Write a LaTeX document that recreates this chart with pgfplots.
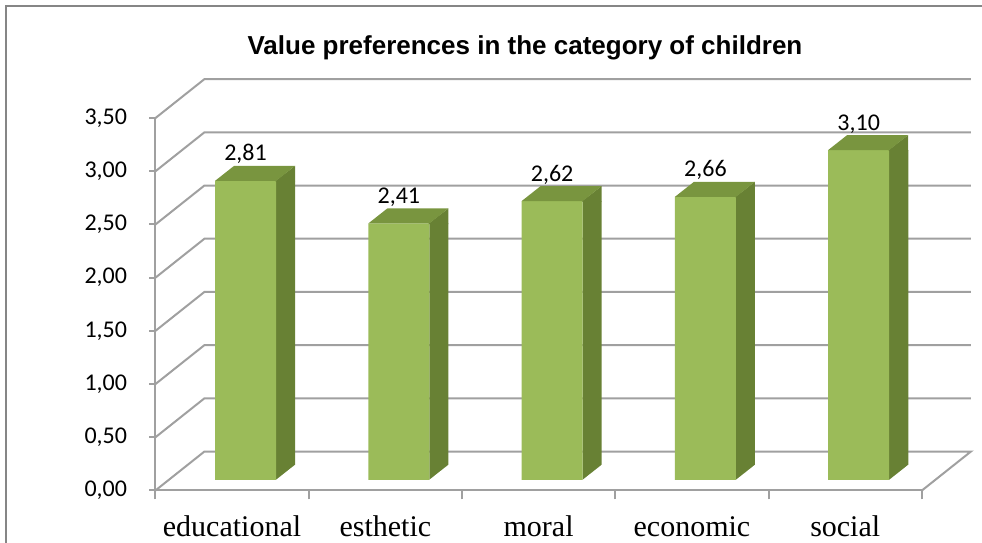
\documentclass[border=0pt]{standalone}
\usepackage{fontspec}
\setmainfont{Carlito}
\newfontfamily\timesfont{Liberation Serif}
\newfontfamily\titlefont{Liberation Sans}
\usepackage{pgfplots}
\pgfplotsset{compat=1.18}
\usepackage{pgfplotstable}
\definecolor{frontcol}{RGB}{155,187,89}
\definecolor{sidecol}{RGB}{104,129,52}
\definecolor{topcol}{RGB}{121,149,63}
\definecolor{gridcol}{RGB}{160,160,160}
\definecolor{framecol}{RGB}{134,134,134}
\pgfdeclareplotmark{barcap}{%
  \pgfsetfillcolor{sidecol}%
  \pgfpathmoveto{\pgfpoint{-0.3pt}{0pt}}%
  \pgfpathlineto{\pgfpoint{9.5pt}{7.5pt}}%
  \pgfpathlineto{\pgfpoint{9.5pt}{-0.3pt}}%
  \pgfpathlineto{\pgfpoint{-0.3pt}{-0.3pt}}%
  \pgfpathclose\pgfusepath{fill}%
  \pgfsetfillcolor{topcol}%
  \pgfpathmoveto{\pgfpoint{0pt}{0pt}}%
  \pgfpathlineto{\pgfpoint{-30.5pt}{0pt}}%
  \pgfpathlineto{\pgfpoint{-21pt}{7.5pt}}%
  \pgfpathlineto{\pgfpoint{9.5pt}{7.5pt}}%
  \pgfpathclose\pgfusepath{fill}%
}
\pgfdeclareplotmark{barfoot}{%
  \pgfsetfillcolor{white}%
  \pgfpathmoveto{\pgfpoint{0pt}{0pt}}%
  \pgfpathlineto{\pgfpoint{9.5pt}{7.5pt}}%
  \pgfpathlineto{\pgfpoint{10pt}{7.5pt}}%
  \pgfpathlineto{\pgfpoint{10pt}{-0.6pt}}%
  \pgfpathlineto{\pgfpoint{0pt}{-0.6pt}}%
  \pgfpathclose\pgfusepath{fill}%
}
\pgfplotstableread{
cat val
educational 2.81
esthetic 2.41
moral 2.62
economic 2.66
social 3.10
}\datatable
\begin{document}
\begin{tikzpicture}
\path[use as bounding box] (0,0) rectangle (491pt,271pt);
\draw[framecol, line width=1pt] (3pt,-2pt) -- (3pt,268pt) -- (495pt,268pt);
\node[anchor=base, font=\titlefont\bfseries\fontsize{13}{15}\selectfont] at (262.5pt,243.5pt) {Value preferences in the category of children};
\begin{axis}[
  at={(77.7pt,25.75pt)}, anchor=south west,
  x=76.65pt, y=53.2pt,
  xmin=-0.5, xmax=4.5, ymin=-0.1, ymax=3.4,
  enlargelimits=false, clip=false,
  axis lines=left,
  axis line style={gridcol, line width=1pt, -},
  ytick={-0.1,0.4,0.9,1.4,1.9,2.4,2.9,3.4},
  yticklabels={{0,00},{0,50},{1,00},{1,50},{2,00},{2,50},{3,00},{3,50}},
  xtick={0,1,2,3,4},
  xticklabels={educational,esthetic,moral,economic,social},
  minor xtick={-0.5,0.5,1.5,2.5,3.5,4.5},
  tick align=outside,
  major tick length=3pt,
  minor tick length=4.5pt,
  major x tick style={draw=none},
  ytick style={gridcol, line width=1pt},
  minor x tick style={gridcol, line width=1pt},
  yticklabel style={font=\fontsize{12}{14}\selectfont, anchor=east, inner sep=0pt, xshift=-11pt},
  xticklabel style={font=\timesfont\fontsize{15}{18}\selectfont, anchor=base, inner sep=0pt, yshift=-20pt},
  /pgf/number format/assume math mode=true,
]
\draw[gridcol, line width=1pt] (axis cs:-0.5,-0.1) -- (axis cs:-0.18,0.2665) -- (axis cs:4.82,0.2665) -- (axis cs:4.5,-0.1);
\draw[gridcol, line width=1pt] (axis cs:-0.5,0.4) -- (axis cs:-0.18,0.7665) -- (axis cs:4.82,0.7665);
\draw[gridcol, line width=1pt] (axis cs:-0.5,0.9) -- (axis cs:-0.18,1.2665) -- (axis cs:4.82,1.2665);
\draw[gridcol, line width=1pt] (axis cs:-0.5,1.4) -- (axis cs:-0.18,1.7665) -- (axis cs:4.82,1.7665);
\draw[gridcol, line width=1pt] (axis cs:-0.5,1.9) -- (axis cs:-0.18,2.2665) -- (axis cs:4.82,2.2665);
\draw[gridcol, line width=1pt] (axis cs:-0.5,2.4) -- (axis cs:-0.18,2.7665) -- (axis cs:4.82,2.7665);
\draw[gridcol, line width=1pt] (axis cs:-0.5,2.9) -- (axis cs:-0.18,3.2665) -- (axis cs:4.82,3.2665);
\draw[gridcol, line width=1pt] (axis cs:-0.5,3.4) -- (axis cs:-0.18,3.7665) -- (axis cs:4.82,3.7665);
% side faces (rectangular part)
\addplot[ybar, bar width=0.124, bar shift=0pt, fill=sidecol, draw=none]
  table[x expr=\coordindex+0.349, y=val] {\datatable};
% front faces
\addplot[ybar, bar width=0.398, bar shift=0pt, fill=frontcol, draw=none,
  nodes near coords={\pgfmathprintnumber[fixed,fixed zerofill,precision=2,use comma]{\pgfplotspointmeta}},
  every node near coord/.append style={font=\fontsize{12}{14}\selectfont, anchor=base, inner sep=0pt, yshift=10pt, text=black},
] table[x expr=\coordindex+0.088, y=val] {\datatable};
% top faces and slanted top of side faces
\addplot[only marks, mark=barcap] table[x expr=\coordindex+0.287, y=val] {\datatable};
% slanted bottom of side faces
\addplot[only marks, mark=barfoot] table[x expr=\coordindex+0.287, y expr=0] {\datatable};
\end{axis}
\end{tikzpicture}
\end{document}
